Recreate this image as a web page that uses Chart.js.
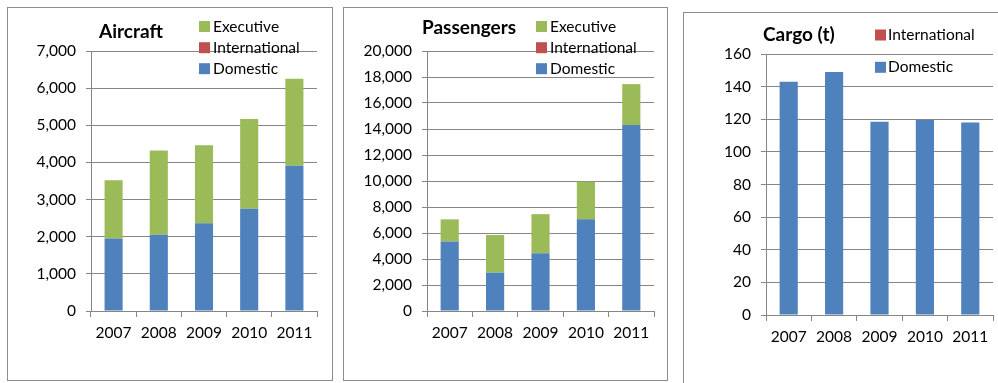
<!DOCTYPE html>
<html>
<head>
<meta charset="utf-8">
<script src="https://cdn.jsdelivr.net/npm/chart.js@4/dist/chart.umd.min.js"></script>
<style>
    html, body { margin: 0; padding: 0; background: #fff; overflow: hidden; }
    body { width: 998px; height: 383px; position: relative; }
    .panel { position: absolute; border: 1px solid #8c8c8c; background: #fff; }
    .panel canvas { display: block; }
    #p1 { left: 7px; top: 7px; width: 324px; height: 372px; }
    #p2 { left: 343px; top: 7px; width: 323px; height: 372px; }
    #p3 { left: 683px; top: 12px; width: 324px; height: 372px; }
</style>
</head>
<body>
<div class="panel" id="p1"><canvas id="aircraft" width="324" height="372"></canvas></div>
<div class="panel" id="p2"><canvas id="passengers" width="323" height="372"></canvas></div>
<div class="panel" id="p3"><canvas id="cargo" width="324" height="372"></canvas></div>
<script>
/* ==================
    DATOS
================== */

const years = ['2007', '2008', '2009', '2010', '2011'];

const aircraftDomestic = [1950, 2050, 2360, 2750, 3910];
const aircraftInternational = [0, 0, 0, 0, 0];
const aircraftExecutive = [1570, 2270, 2100, 2420, 2340];

const passengersDomestic = [5350, 2950, 4450, 7050, 14300];
const passengersInternational = [0, 0, 0, 0, 0];
const passengersExecutive = [1700, 2900, 3000, 2900, 3150];

const cargoDomestic = [143, 149, 118.5, 119.5, 118];
const cargoInternational = [0, 0, 0, 0, 0];

const BLUE = '#4f81bd';
const RED = '#c0504d';
const GREEN = '#9bbb59';
const GRID = '#868686';
const FONT = 'Lato';

/* ==================
    TITULO Y LEYENDA
================== */

// Titulo y leyenda van dibujados dentro del area, como en Excel
const panelDecor = {
    id: 'panelDecor',
    afterDraw(chart, args, opts) {
        const ctx = chart.ctx;
        ctx.save();
        ctx.fillStyle = '#000';
        ctx.textBaseline = 'alphabetic';
        ctx.font = 'bold 19px ' + FONT;
        ctx.fillText(opts.title, opts.titleX, opts.titleY);

        ctx.font = '15.5px ' + FONT;
        ctx.textBaseline = 'middle';
        const items = chart.data.datasets.slice().reverse();
        items.forEach((ds, i) => {
            const y = opts.rows[i];
            ctx.fillStyle = ds.backgroundColor;
            ctx.fillRect(opts.swatchX, y - 5.5, 11, 11);
            ctx.fillStyle = '#000';
            ctx.fillText(ds.label, opts.textX, y);
        });
        ctx.restore();
    }
};

function makePanel(id, datasets, box, yMax, yStep, decor) {
    const canvas = document.getElementById(id);
    const W = canvas.width, H = canvas.height;
    return new Chart(canvas.getContext('2d'), {
        type: 'bar',
        data: { labels: years, datasets: datasets },
        options: {
            responsive: false,
            animation: false,
            devicePixelRatio: 1,
            layout: { padding: { left: 0, top: box.top, right: W - box.right, bottom: 0 } },
            datasets: { bar: { barPercentage: 0.4, categoryPercentage: 1 } },
            plugins: {
                legend: { display: false },
                title: { display: false },
                tooltip: { enabled: false },
                panelDecor: decor
            },
            scales: {
                x: {
                    stacked: true,
                    grid: { offset: true, drawOnChartArea: false, tickLength: 6, color: GRID },
                    border: { color: GRID },
                    ticks: { color: '#000', padding: 7, font: { family: FONT, size: 15.5 } },
                    afterFit(s) { s.height = H - box.bottom; }
                },
                y: {
                    stacked: true,
                    min: 0,
                    max: yMax,
                    ticks: { stepSize: yStep, color: '#000', padding: 10, font: { family: FONT, size: 15.5 } },
                    grid: { color: GRID, tickLength: 5 },
                    border: { color: GRID },
                    afterFit(s) { s.width = box.left; }
                }
            }
        },
        plugins: [panelDecor]
    });
}

/* ==================
    GRAFICAS
================== */

makePanel('aircraft', [
    { label: 'Domestic', data: aircraftDomestic, backgroundColor: BLUE },
    { label: 'International', data: aircraftInternational, backgroundColor: RED },
    { label: 'Executive', data: aircraftExecutive, backgroundColor: GREEN }
], { left: 83, right: 309, top: 43, bottom: 303 }, 7000, 1000, {
    title: 'Aircraft', titleX: 91, titleY: 30,
    swatchX: 191, textX: 205, rows: [18.5, 39.7, 60.7]
});

makePanel('passengers', [
    { label: 'Domestic', data: passengersDomestic, backgroundColor: BLUE },
    { label: 'International', data: passengersInternational, backgroundColor: RED },
    { label: 'Executive', data: passengersExecutive, backgroundColor: GREEN }
], { left: 83, right: 310, top: 43, bottom: 303 }, 20000, 2000, {
    title: 'Passengers', titleX: 78, titleY: 25.5,
    swatchX: 192, textX: 206, rows: [18.5, 39.7, 60.7]
});

makePanel('cargo', [
    { label: 'Domestic', data: cargoDomestic, backgroundColor: BLUE },
    { label: 'International', data: cargoInternational, backgroundColor: RED }
], { left: 82, right: 309, top: 41, bottom: 302 }, 160, 20, {
    title: 'Cargo (t)', titleX: 79, titleY: 28,
    swatchX: 191, textX: 204, rows: [22, 54.3]
});
</script>
</body>
</html>
